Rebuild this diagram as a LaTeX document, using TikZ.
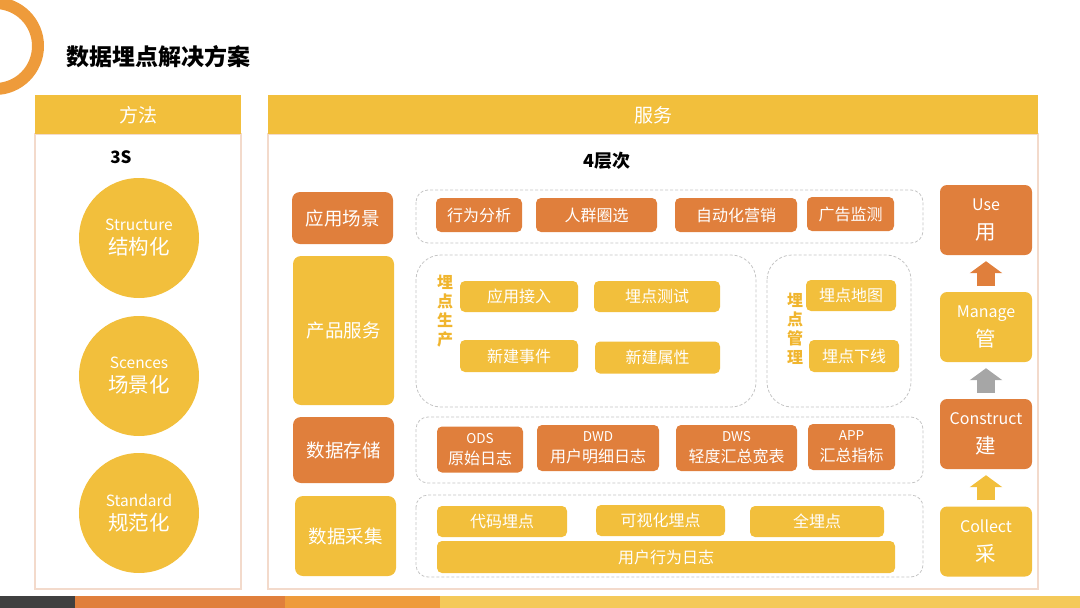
\documentclass[tikz,border=0pt]{standalone}
\usepackage{fontspec}
\setmainfont{Noto Sans CJK SC}
\usetikzlibrary{arrows.meta}

\definecolor{ptorange}{HTML}{E07F3C}
\definecolor{ptyellow}{HTML}{F2BF3C}
\definecolor{ptring}{HTML}{EE9B3B}
\definecolor{ptline}{HTML}{F3DACB}
\definecolor{ptdash}{HTML}{C4C4C4}
\definecolor{ptgray}{HTML}{A6A6A6}
\definecolor{ptlabel}{HTML}{F0B52E}

\tikzset{
  box/.style={rounded corners=5pt, inner sep=0pt, text=white, align=center,
    font=\fontsize{16}{20}\selectfont},
  obox/.style={box, fill=ptorange},
  ybox/.style={box, fill=ptyellow},
  lbox/.style={rounded corners=8pt, minimum width=101pt, font=\fontsize{18.5}{22}\selectfont},
  sbox/.style={rounded corners=7pt, minimum width=92pt, minimum height=70pt,
    font=\fontsize{16}{29}\selectfont},
  dashbox/.style={draw=ptdash, line width=0.8pt, dash pattern=on 3pt off 2pt, rounded corners=12pt},
  ball/.style={circle, fill=ptyellow, minimum size=120pt, inner sep=0pt, text=white, align=center,
    font=\fontsize{15.5}{24}\selectfont},
  vlabel/.style={text=ptlabel, align=center, font=\fontsize{16}{19}\selectfont\bfseries},
  head/.style={fill=ptyellow},
  uparr/.style={line width=18pt, shorten >=6pt, shorten <=6pt, -{Triangle[length=12pt,width=32pt]}}
}
\newcommand{\zh}{\fontsize{20.5}{24}\selectfont}
\newcommand{\sm}{\fontsize{13.5}{15}\selectfont}

\begin{document}
\begin{tikzpicture}[x=1pt, y=-1pt]
    \useasboundingbox (0,0) rectangle (1080,608);
    % Ring and title
    \fill[ptring, even odd rule] (-5,46) circle (49pt) circle (37pt);
    \node[anchor=west, font=\fontsize{23}{26}\selectfont\bfseries] (title) at (63,57) {数据埋点解决方案};
    % Bottom bar
    \fill[black!75] (0,596) rectangle (75,608);
    \fill[ptorange] (75,596) rectangle (285,608);
    \fill[ptring] (285,596) rectangle (440,608);
    \fill[ptyellow!85!white] (440,596) rectangle (1080,608);

    % Left panel - 3S
    \draw[ptline, line width=1.2pt] (35,134) rectangle (241,589);
    \fill[head] (35,95) rectangle (241,134);
    \node[text=white, font=\fontsize{19}{20}\selectfont] (method) at (138,115) {方法};
    \node[font=\fontsize{17}{18}\selectfont\bfseries] (threes) at (121,157) {3S};
    \node[ball] (structure) at (139,238) {Structure\\{\zh 结构化}};
    \node[ball] (scences) at (139,376) {Scences\\{\zh 场景化}};
    \node[ball] (standard) at (139,513) {Standard\\{\zh 规范化}};

    % Right panel - 4 layers
    \draw[ptline, line width=1.2pt] (268,134) rectangle (1038,589);
    \fill[head] (268,95) rectangle (1038,134);
    \node[text=white, font=\fontsize{19}{20}\selectfont] (service) at (653,115) {服务};
    \node[font=\fontsize{18}{20}\selectfont\bfseries] (layers) at (607,161) {4层次};

    % Layer labels
    \node[obox, lbox, minimum height=52pt] (scene) at (342.5,218) {应用场景};
    \node[ybox, lbox, minimum height=149pt] (product) at (343.5,330.5) {产品服务};
    \node[obox, lbox, minimum height=66pt] (storage) at (343.5,450) {数据存储};
    \node[ybox, lbox, minimum height=80pt] (collection) at (345.5,536) {数据采集};

    % Dashed groups
    \draw[dashbox] (416,190) rectangle (923,243);
    \draw[dashbox, rounded corners=25pt] (416,255) rectangle (756,407);
    \draw[dashbox, rounded corners=25pt] (767,255) rectangle (911,407);
    \draw[dashbox] (416,417) rectangle (923,483);
    \draw[dashbox] (416,495) rectangle (923,577);

    % Row 1
    \node[obox, minimum width=86pt, minimum height=34pt] (behave) at (479,215) {行为分析};
    \node[obox, minimum width=121pt, minimum height=34pt] (crowd) at (596.5,215) {人群圈选};
    \node[obox, minimum width=122pt, minimum height=34pt] (market) at (736,215) {自动化营销};
    \node[obox, minimum width=87pt, minimum height=34pt] (adwatch) at (850.5,214) {广告监测};

    % Row 2
    \node[vlabel] (prodlabel) at (445,311) {埋\\点\\生\\产};
    \node[ybox, minimum width=118pt, minimum height=31pt] (access) at (519,296.5) {应用接入};
    \node[ybox, minimum width=126pt, minimum height=31pt] (ptest) at (657,296.5) {埋点测试};
    \node[ybox, minimum width=118pt, minimum height=32pt] (newevent) at (519,356) {新建事件};
    \node[ybox, minimum width=125pt, minimum height=32pt] (newattr) at (657.5,357.5) {新建属性};
    \node[vlabel] (mgmtlabel) at (795,329) {埋\\点\\管\\理};
    \node[ybox, minimum width=90pt, minimum height=31pt] (pmap) at (851,295.5) {埋点地图};
    \node[ybox, minimum width=90pt, minimum height=32pt] (poff) at (854,356) {埋点下线};

    % Row 3
    \node[obox, minimum width=86pt, minimum height=46pt] (ods) at (480,449.5) {{\sm ODS}\\[1pt]原始日志};
    \node[obox, minimum width=122pt, minimum height=46pt] (dwd) at (598,448) {{\sm DWD}\\[1pt]用户明细日志};
    \node[obox, minimum width=121pt, minimum height=46pt] (dws) at (736.5,448) {{\sm DWS}\\[1pt]轻度汇总宽表};
    \node[obox, minimum width=87pt, minimum height=46pt] (app) at (851.5,447) {{\sm APP}\\[1pt]汇总指标};

    % Row 4
    \node[ybox, minimum width=130pt, minimum height=31pt] (codept) at (502,521.5) {代码埋点};
    \node[ybox, minimum width=129pt, minimum height=31pt] (visualpt) at (660.5,520.5) {可视化埋点};
    \node[ybox, minimum width=134pt, minimum height=31pt] (fullpt) at (817,521.5) {全埋点};
    \node[ybox, minimum width=458pt, minimum height=32pt] (userlog) at (666,557) {用户行为日志};

    % Right column
    \node[obox, sbox] (use) at (986,220) {Use\\{\zh 用}};
    \node[ybox, sbox] (manage) at (986,327) {Manage\\{\zh 管}};
    \node[obox, sbox] (construct) at (986,434) {Construct\\{\zh 建}};
    \node[ybox, sbox] (collect) at (986,541.5) {Collect\\{\zh 采}};
    \draw[uparr, ptyellow] (collect.north) -- (construct.south);
    \draw[uparr, ptgray] (construct.north) -- (manage.south);
    \draw[uparr, ptorange] (manage.north) -- (use.south);
\end{tikzpicture}
\end{document}
